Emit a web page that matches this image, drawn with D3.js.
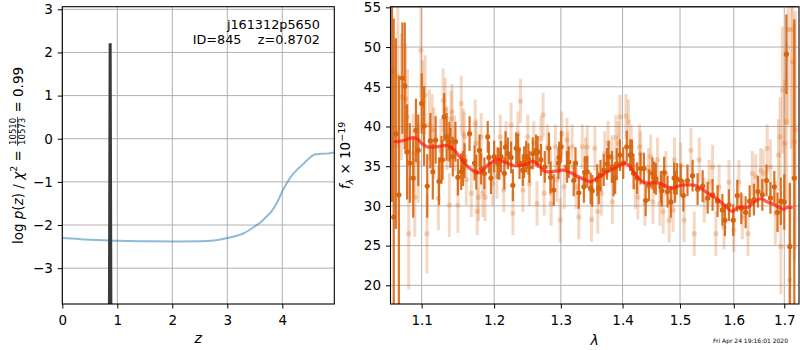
<!DOCTYPE html>
<html><head><meta charset="utf-8">
<script src="https://cdn.jsdelivr.net/npm/d3@7"></script>
<style>body{margin:0;background:#fff}svg{font-family:"DejaVu Sans",sans-serif}</style>
</head><body><svg id="c" width="800" height="350"></svg>
<script>
// ---------- left panel data ----------
const zGrid    = [0,0.25,0.5,0.75,1,1.5,2,2.5,2.75,3,3.3,3.5,3.6,3.7,3.8,3.9,4.0,4.1,4.2,4.3,4.4,4.5,4.55,4.6,4.7,4.8,4.945];
const chi2LogP = [-2.30,-2.32,-2.34,-2.355,-2.365,-2.375,-2.38,-2.375,-2.36,-2.30,-2.19,-2.03,-1.94,-1.82,-1.69,-1.49,-1.22,-0.99,-0.81,-0.68,-0.56,-0.44,-0.39,-0.36,-0.35,-0.345,-0.32];
const pzZ    = [0.84,0.866,0.874,0.90];
const pzLogP = [-10,2.18,2.18,-10];
const zTicks = [0,1,2,3,4];
const logpTicks = [-3,-2,-1,0,1,2,3];
// ---------- right panel data ----------
const darkWave = [1.0615,1.0637,1.0664,1.0703,1.0748,1.0779,1.0809,1.0845,1.0889,1.0925,1.0955,1.1000,1.1032,1.1074,1.1116,1.1148,1.1186,1.1232,1.1265,1.1279,1.1302,1.1335,1.1372,1.1386,1.1419,1.1455,1.1489,1.1535,1.1559,1.1580,1.1651,1.1721,1.1745,1.1791,1.1814,1.1860,1.1908,1.1925,1.1954,1.2000,1.2050,1.2074,1.2099,1.2148,1.2165,1.2199,1.2247,1.2273,1.2322,1.2350,1.2371,1.2421,1.2440,1.2470,1.2504,1.2519,1.2570,1.2619,1.2644,1.2693,1.2752,1.2816,1.2841,1.2890,1.2964,1.2975,1.3005,1.3097,1.3123,1.3203,1.3231,1.3284,1.3365,1.3380,1.3419,1.3473,1.3500,1.3581,1.3606,1.3634,1.3687,1.3742,1.3768,1.3823,1.3849,1.3876,1.3903,1.3956,1.4011,1.4071,1.4129,1.4159,1.4187,1.4247,1.4306,1.4364,1.4394,1.4452,1.4512,1.4541,1.4571,1.4659,1.4675,1.4717,1.4777,1.4836,1.4894,1.4910,1.4943,1.5013,1.5061,1.5135,1.5228,1.5320,1.5413,1.5506,1.5598,1.5691,1.5783,1.5831,1.5907,1.5989,1.6067,1.6145,1.6229,1.6308,1.6392,1.6471,1.6557,1.6641,1.6720,1.6798,1.6863,1.6929,1.7000,1.7043,1.7114,1.7206];
const darkFlux = [47.0,28.6,39.1,31.4,46.1,45.1,36.8,35.4,33.5,39.5,37.0,42.9,40.05,32.5,38.2,34.3,38.3,33.1,35.8,35.8,41.2,38.7,38.1,37.3,36.2,38.1,33.6,34.3,34.7,35.7,39.1,35.4,34.25,37.0,34.7,34.1,38.7,36.1,33.5,36.2,35.4,35.3,36.2,34.1,37.4,36.6,36.1,32.6,37.25,37.1,35.4,34.5,35.5,36.2,35.9,34.9,36.6,37.0,36.8,35.8,34.9,37.25,33.6,32.0,35.4,36.1,37.45,34.9,35.5,33.2,35.4,31.65,32.4,34.25,34.3,32.2,31.9,33.25,32.2,33.8,34.5,35.3,36.2,34.9,33.2,33.5,35.3,36.4,35.4,37.45,36.4,36.35,34.1,33.5,34.7,34.7,30.7,32.6,34.1,33.6,33.4,32.4,31.9,34.2,31.8,30.5,33.5,32.4,33.4,33.2,31.3,33.2,33.8,32.1,32.5,31.0,31.4,30.6,29.5,28.2,30.1,28.2,31.3,29.7,29.2,30.6,30.8,31.8,31.4,33.2,31.0,32.4,29.2,30.6,30.5,49.1,24.9,33.5];
const darkErr  = [16.5,25,12,15,7,8,6,5,5,4,4.5,3.8,5,4,3.5,3.5,3,3,3,2.5,3,3,2.5,2.5,2.5,2.5,2.3,2.3,2.2,2.2,2.2,2.2,2.2,2,2,2,2,2,2,2,2,2,2,2,2,2,2,2,2,2,2,2,2,2,2,2,2,2,2,2,2,2,2,2,2,2,2,2,2,2,2,2,2,2,2,2,2,2,2,2,2,2,2,2,2,2,2,2,2,2,2,2,2,2,2,2,2,2,2,2,2,2,2,2,2,2,2,2,2,2,2,2,2,2,2,2,2,2,2,2,2,2,2,2,2,2,2,2,2,2,2,2,2.5,3,3.5,5,8,20,35,30,17];
const lightWave = [1.0690,1.0735,1.0790,1.0815,1.0830,1.0890,1.0910,1.0955,1.0990,1.1014,1.1046,1.1070,1.1102,1.1140,1.1162,1.1223,1.1256,1.1288,1.1316,1.1339,1.1372,1.1396,1.1409,1.1442,1.1489,1.1535,1.1559,1.1581,1.1605,1.1675,1.1730,1.1744,1.1758,1.1777,1.1814,1.1838,1.1870,1.1978,1.2040,1.2089,1.2139,1.2173,1.2247,1.2273,1.2347,1.2386,1.2421,1.2495,1.2519,1.2585,1.2634,1.2693,1.2727,1.2742,1.2792,1.2841,1.2850,1.2915,1.2940,1.2990,1.3016,1.3054,1.3097,1.3110,1.3177,1.3240,1.3284,1.3339,1.3392,1.3419,1.3489,1.3542,1.3590,1.3650,1.3703,1.3758,1.3823,1.3830,1.3887,1.3929,1.3956,1.4058,1.4099,1.4146,1.4217,1.4260,1.4288,1.4306,1.4380,1.4441,1.4482,1.4520,1.4600,1.4641,1.4700,1.4747,1.4806,1.4876,1.4900,1.5013,1.5074,1.5198,1.5259,1.5350,1.5443,1.5535,1.5598,1.5659,1.5720,1.5813,1.5907,1.6000,1.6098,1.6165,1.6275,1.6361,1.6426,1.6524,1.6577,1.6655,1.6720,1.6818,1.6882,1.6916,1.6930,1.6961,1.7010,1.7043,1.7075,1.7114,1.7141,1.7173,1.7206,1.7226];
const lightFlux = [46.3,43.75,43.5,41.2,26.5,36.6,31.1,35.4,49.6,43.3,43.96,26.5,40.2,39.55,37.9,30.95,37.0,43.3,42.1,38.5,30.1,41.0,41.85,37.9,30.1,42.9,39.1,38.7,33.3,31.6,40.4,37.9,29.3,31.1,38.7,31.6,31.1,32.8,33.7,38.7,32.0,37.9,40.2,29.1,39.1,43.2,32.0,38.7,32.8,37.9,30.3,38.5,41.45,31.6,37.45,34.1,30.3,37.45,33.3,28.2,39.1,32.4,38.3,36.6,37.45,32.4,28.6,37.45,35.8,37.4,28.3,37.25,29.3,31.6,36.6,37.9,36.1,30.5,38.6,37.9,41.2,41.3,40.6,37.45,32.4,31.1,37.45,36.6,30.3,34.5,36.2,30.5,35.8,30.3,29.3,34.1,28.2,29.5,35.8,35.15,28.2,37.0,26.5,35.8,30.7,33.0,34.9,26.5,32.4,27.3,33.0,26.95,33.0,28.6,26.5,34.1,33.7,34.5,34.1,37.25,34.9,29.1,36.4,38.7,24.9,44.6,37.9,40.6,52.2,20.7,52.2,48.15,38.1,39.55];
const lightErr  = [9,8,7,6,7,5,5,5,6,5,5,5,4.5,4.5,4.5,4,4,4,4,4,4,3.5,3.5,3.5,3.5,3.5,3.2,3.2,3.2,3,3,3,3,3,3,3,3,2.8,2.8,2.8,2.8,2.8,2.8,2.8,2.8,2.8,2.8,2.8,2.8,2.8,2.8,2.8,2.8,2.8,2.8,2.8,2.8,2.8,2.8,2.8,2.8,2.8,2.8,2.8,2.8,2.8,2.8,2.8,2.8,2.8,2.8,2.8,2.8,2.8,2.8,2.8,2.8,2.8,2.8,2.8,2.8,2.8,2.8,2.8,2.8,2.8,2.8,2.8,2.8,2.8,2.8,2.8,2.8,2.8,2.8,2.8,2.8,2.8,2.8,2.8,2.8,2.8,2.8,2.8,2.8,2.8,2.8,2.8,2.8,2.8,2.8,2.8,2.8,2.8,2.8,2.8,2.8,2.8,3,3,3.5,4,4.5,5,6,8,8,10,12,12,15,15,15,15,15,15];
const modelWave = [1.0656,1.075,1.083,1.0889,1.095,1.100,1.107,1.115,1.125,1.1349,1.142,1.152,1.162,1.171,1.1782,1.185,1.193,1.2050,1.213,1.221,1.2296,1.240,1.249,1.2570,1.264,1.2742,1.285,1.2950,1.3042,1.315,1.327,1.338,1.3473,1.357,1.3742,1.386,1.396,1.4041,1.412,1.422,1.4364,1.4601,1.472,1.4836,1.492,1.5013,1.514,1.5259,1.538,1.5506,1.563,1.5753,1.587,1.5969,1.605,1.6131,1.6262,1.639,1.6524,1.666,1.6786,1.690,1.698,1.706,1.7145];
const modelFlux = [38.08,38.2,38.45,38.6,38.4,37.9,37.45,37.4,37.5,37.6,37.2,36.1,35.0,34.4,34.2,34.6,35.3,35.86,35.6,35.3,35.06,35.1,35.3,35.65,35.3,34.4,34.3,34.45,34.5,34.2,33.7,33.3,33.05,33.5,34.3,34.7,35.1,35.36,35.0,33.9,32.95,32.9,32.6,32.2,32.35,32.6,32.65,32.6,32.2,31.6,31.1,30.5,29.8,29.3,29.7,29.9,29.8,30.4,30.9,30.5,30.2,29.8,29.6,29.8,29.8];
const waveTicks = [1.1,1.2,1.3,1.4,1.5,1.6,1.7];
const fluxTicks = [20,25,30,35,40,45,50,55];

// ---------- drawing ----------
const svg = d3.select('#c');
const L = {x0:62.3, x1:334.3, y0:6.7, y1:304};
const R = {x0:390.5, x1:799, y0:6.7, y1:304};
const xL = d3.scaleLinear().domain([0,4.945]).range([L.x0,L.x1]);
const yL = d3.scaleLinear().domain([-3.83,3.06]).range([L.y1,L.y0]);
const xR = d3.scaleLog().domain([1.0596,1.7303]).range([R.x0,R.x1]);
const yR = d3.scaleLinear().domain([17.65,55.08]).range([R.y1,R.y0]);
const GRID = '#b0b0b0', TICKFS = '13.5px';

function clip(id, B){
  svg.append('clipPath').attr('id',id).append('rect')
    .attr('x',B.x0).attr('y',B.y0).attr('width',B.x1-B.x0).attr('height',B.y1-B.y0);
}
clip('cl',L); clip('cr',R);

function grid(B,x,y,xt,yt){
  const g = svg.append('g');
  xt.forEach(v=>g.append('line').attr('x1',x(v)).attr('x2',x(v)).attr('y1',B.y0).attr('y2',B.y1).attr('stroke',GRID).attr('stroke-width',1));
  yt.forEach(v=>g.append('line').attr('y1',y(v)).attr('y2',y(v)).attr('x1',B.x0).attr('x2',B.x1).attr('stroke',GRID).attr('stroke-width',1));
}
function axes(B,x,y,xt,yt,xf,yf){
  const ax = svg.append('g').attr('transform',`translate(0,${B.y1})`)
    .call(d3.axisBottom(x).tickValues(xt).tickFormat(xf).tickSize(4.5).tickPadding(6.5));
  const ay = svg.append('g').attr('transform',`translate(${B.x0},0)`)
    .call(d3.axisLeft(y).tickValues(yt).tickFormat(yf).tickSize(4.5).tickPadding(5));
  [ax,ay].forEach(a=>{a.select('.domain').remove();
    a.selectAll('text').attr('font-size',TICKFS).attr('font-family','DejaVu Sans').attr('fill','#000');
    a.selectAll('line').attr('stroke','#000').attr('stroke-width',1);});
  svg.append('rect').attr('x',B.x0).attr('y',B.y0).attr('width',B.x1-B.x0).attr('height',B.y1-B.y0)
    .attr('fill','none').attr('stroke','#000').attr('stroke-width',1.1);
}

// left panel
grid(L,xL,yL,zTicks,logpTicks);
const gl = svg.append('g').attr('clip-path','url(#cl)');
gl.append('path').datum(zGrid.map((z,i)=>[z,chi2LogP[i]]))
  .attr('d',d3.line().x(d=>xL(d[0])).y(d=>yL(d[1])).curve(d3.curveMonotoneX))
  .attr('fill','none').attr('stroke','#1f77b4').attr('stroke-opacity',0.5).attr('stroke-width',2);
gl.append('path').datum(pzZ.map((z,i)=>[z,pzLogP[i]]))
  .attr('d',d3.line().x(d=>xL(d[0])).y(d=>yL(d[1])))
  .attr('fill','none').attr('stroke','#3a3a3a').attr('stroke-width',2.6).attr('stroke-linejoin','miter');
axes(L,xL,yL,zTicks,logpTicks,d3.format('d'),d3.format('d'));

svg.append('text').attr('x',320).attr('y',28.5).attr('text-anchor','end').attr('font-size','12.8px').text('j161312p5650');
svg.append('text').attr('x',320).attr('y',43.5).attr('text-anchor','end').attr('font-size','12.8px').attr('xml:space','preserve').text('ID=845    z=0.8702');
svg.append('text').attr('x',(L.x0+L.x1)/2).attr('y',343).attr('text-anchor','middle').attr('font-size','14px').attr('font-style','italic').text('z');

// left ylabel
(function(){
  const g = svg.append('g').attr('transform','translate(22.5,155.5) rotate(-90)');
  const fs = 13.5;
  const t1 = g.append('text').attr('font-size',fs+'px');
  t1.append('tspan').text('log ');
  t1.append('tspan').attr('font-style','italic').text('p');
  t1.append('tspan').text('(');
  t1.append('tspan').attr('font-style','italic').text('z');
  t1.append('tspan').text(') / ');
  t1.append('tspan').attr('font-style','italic').text('χ');
  t1.append('tspan').attr('font-size','9.5px').attr('dy',-5.5).text('2');
  t1.append('tspan').attr('dy',5.5).attr('xml:space','preserve').text(' = ');
  const num = g.append('text').attr('font-size','8.5px').text('10510');
  const den = g.append('text').attr('font-size','8.5px').text('10573');
  const t3 = g.append('text').attr('font-size',fs+'px').attr('xml:space','preserve').text(' = 0.99');
  const w1 = t1.node().getComputedTextLength();
  const wn = num.node().getComputedTextLength(), wd = den.node().getComputedTextLength();
  const wf = Math.max(wn,wd)+2;
  const w3 = t3.node().getComputedTextLength();
  const s = -(w1+wf+w3)/2;
  t1.attr('x',s);
  num.attr('x',s+w1+(wf-wn)/2).attr('y',-7);
  den.attr('x',s+w1+(wf-wd)/2).attr('y',2);
  g.append('line').attr('x1',s+w1).attr('x2',s+w1+wf).attr('y1',-5).attr('y2',-5).attr('stroke','#000').attr('stroke-width',0.7);
  t3.attr('x',s+w1+wf);
})();

// right panel
grid(R,xR,yR,waveTicks,fluxTicks);
const gr = svg.append('g').attr('clip-path','url(#cr)');
const DARK = '#d8640e';
const light = lightWave.map((w,i)=>({w,f:lightFlux[i],e:lightErr[i]}));
const dark = darkWave.map((w,i)=>({w,f:darkFlux[i],e:darkErr[i]}));
gr.selectAll('line.le').data(light).join('line').attr('class','le')
  .attr('x1',d=>xR(d.w)).attr('x2',d=>xR(d.w)).attr('y1',d=>yR(d.f-d.e)).attr('y2',d=>yR(d.f+d.e))
  .attr('stroke',DARK).attr('stroke-opacity',0.25).attr('stroke-width',3);
gr.selectAll('circle.lp').data(light).join('circle').attr('class','lp')
  .attr('cx',d=>xR(d.w)).attr('cy',d=>yR(d.f)).attr('r',2.6)
  .attr('fill',DARK).attr('fill-opacity',0.25);
gr.selectAll('line.de').data(dark).join('line').attr('class','de')
  .attr('x1',d=>xR(d.w)).attr('x2',d=>xR(d.w)).attr('y1',d=>yR(d.f-d.e)).attr('y2',d=>yR(d.f+d.e))
  .attr('stroke',DARK).attr('stroke-opacity',0.9).attr('stroke-width',2.2);
gr.selectAll('circle.dp').data(dark).join('circle').attr('class','dp')
  .attr('cx',d=>xR(d.w)).attr('cy',d=>yR(d.f)).attr('r',2.6)
  .attr('fill',DARK);
gr.append('path').datum(modelWave.map((w,i)=>[w,modelFlux[i]]))
  .attr('d',d3.line().x(d=>xR(d[0])).y(d=>yR(d[1])).curve(d3.curveCatmullRom))
  .attr('fill','none').attr('stroke','#ff1a0a').attr('stroke-opacity',0.7).attr('stroke-width',3.2)
  .attr('stroke-linecap','round');
axes(R,xR,yR,waveTicks,fluxTicks,d3.format('.1f'),d3.format('d'));

svg.append('text').attr('x',(R.x0+R.x1)/2).attr('y',345).attr('text-anchor','middle').attr('font-size','14px').attr('font-style','italic').text('λ');
(function(){
  const g = svg.append('g').attr('transform','translate(350,155.5) rotate(-90)');
  const t = g.append('text').attr('font-size','13.5px').attr('text-anchor','middle');
  t.append('tspan').attr('font-style','italic').text('f');
  t.append('tspan').attr('font-style','italic').attr('font-size','9.5px').attr('dy',3).text('λ');
  t.append('tspan').attr('dy',-3).attr('xml:space','preserve').text(' × 10');
  t.append('tspan').attr('font-size','9.5px').attr('dy',-5.5).text('−19');
})();
svg.append('text').attr('x',788).attr('y',342.5).attr('text-anchor','end').attr('font-size','6px').text('Fri Apr 24 19:16:01 2020');
</script></body></html>
